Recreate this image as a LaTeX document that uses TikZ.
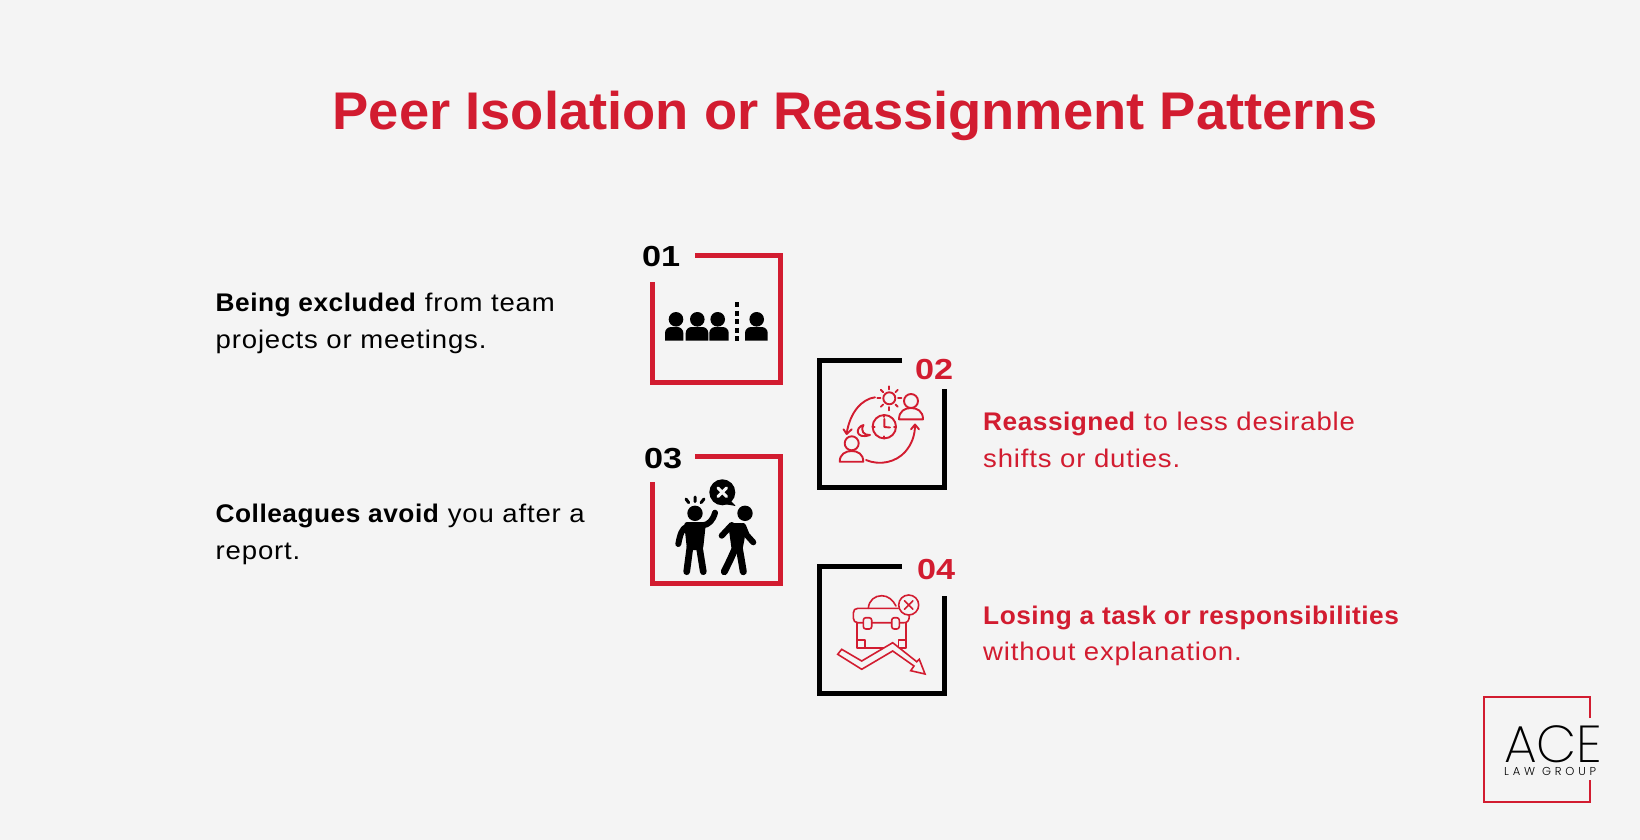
\documentclass[tikz,border=0pt]{standalone}
\usepackage{fontspec}
\setmainfont{Liberation Sans}[FakeStretch=1.08, LetterSpace=3.3, BoldFeatures={FakeStretch=1.03,LetterSpace=2}]
\newfontfamily\titlefont{Liberation Sans}[FakeStretch=1.025]
\newfontfamily\numfont{Liberation Sans}[FakeStretch=1.18]
\newfontfamily\logofont{Poppins ExtraLight}
\newfontfamily\logosmall{Poppins Light}[LetterSpace=33]
\definecolor{acered}{HTML}{D21C30}
\definecolor{pagebg}{HTML}{F4F4F4}
\tikzstyle{framered} = [draw=acered, line width=5pt]
\tikzstyle{frameblack} = [draw=black, line width=5pt]
\tikzstyle{thinicon} = [draw=acered, line width=1.9pt, line cap=round, line join=round]
\tikzstyle{numero} = [inner sep=0pt, anchor=base west, font=\numfont\fontsize{29}{29}\selectfont\bfseries]
\tikzstyle{bodytext} = [inner sep=0pt, anchor=base west, align=left, font=\fontsize{25.5}{36.5}\selectfont]
% one bust of the first icon: left, right
\newcommand{\bust}[2]{\fill (#1,340.7) [rounded corners=6pt] -- (#1,327) -- (#2,327) [sharp corners] -- (#2,340.7) -- cycle;}

\begin{document}
\begin{tikzpicture}[x=1pt,y=-1pt]
    \fill[pagebg] (0,0) rectangle (1640,840);
    \useasboundingbox (0,0) rectangle (1640,840);

    \node [inner sep=0pt, anchor=base, text=acered, font=\titlefont\fontsize{53}{53}\selectfont\bfseries] (title) at (855,130) {Peer Isolation or Reassignment Patterns};

    % frames
    \draw[framered] (695,255) -- (780,255) -- (780,382) -- (652,382) -- (652,282);
    \draw[frameblack] (902,360) -- (819,360) -- (819,487) -- (944,487) -- (944,389);
    \draw[framered] (695,456) -- (780,456) -- (780,583) -- (652,583) -- (652,482);
    \draw[frameblack] (902,566) -- (819,566) -- (819,693) -- (944,693) -- (944,596);

    \node [numero] (num01) at (642,266) {01};
    \node [numero, text=acered] (num02) at (915,379) {02};
    \node [numero] (num03) at (644,468) {03};
    \node [numero, text=acered] (num04) at (917,579) {04};

    \node [bodytext] (text01) at (215.5,348) {\textbf{Being excluded} from team\\projects or meetings.};
    \node [bodytext, text=acered] (text02) at (983,467) {\textbf{Reassigned} to less desirable\\shifts or duties.};
    \node [bodytext] (text03) at (215.5,559) {\textbf{Colleagues avoid} you after a\\report.};
    \node [bodytext, text=acered] (text04) at (983,660.5) {\textbf{Losing a task or responsibilities}\\without explanation.};

    % icon 01
    \foreach \x in {676,697.3,717.7,756.7} \fill (\x,319.3) circle (7.3);
    \bust{665}{683.3}
    \bust{685.7}{708.3}
    \bust{709.3}{728.7}
    \bust{745}{767.7}
    \draw[line width=4pt, dash pattern=on 5pt off 3.6pt] (737,302) -- (737,340.7);

    % icon 02
    \draw[thinicon] (889.3,398.3) circle (6);
    \foreach \a in {0,45,...,315} \draw[thinicon] (889.3,398.3) ++(\a:8.8) -- ++(\a:3.2);
    \draw[thinicon] (911,401) circle (7);
    \draw[thinicon] (899,419.3) .. controls (899,411) and (905,408) .. (911,408) .. controls (917,408) and (923,411) .. (923,419.3) -- cycle;
    \draw[thinicon] (851.7,443.3) circle (7);
    \draw[thinicon] (839.7,461.7) .. controls (839.7,454) and (845.7,451) .. (851.7,451) .. controls (857.7,451) and (863.3,454) .. (863.3,461.7) -- cycle;
    \draw[thinicon] (884.3,426.7) circle (11.7);
    \draw[thinicon] (884.3,419) -- (884.3,427) -- (890,427.5);
    \foreach \a in {0,90,180,270} \draw[thinicon] (884.3,426.7) ++(\a:11.7) -- ++(\a:-2);
    \draw[thinicon] (863.5,425) .. controls (855,427) and (855,440) .. (870,435) .. controls (864,435.5) and (860,431) .. cycle;
    \draw[thinicon] (875,397.3) .. controls (862,399) and (850,412) .. (846.7,433.3);
    \draw[thinicon] (843.5,429.3) -- (846.7,434) -- (851.7,429.3);
    \draw[thinicon] (866,460) .. controls (880,466) and (896,462) .. (905,452) .. controls (912,444) and (915,435) .. (915,425);
    \draw[thinicon] (911,429.3) -- (915,424.5) -- (919,429.3);

    % icon 03
    \fill (722.3,492.3) circle (13);
    \fill (730,500) -- (735.7,506) -- (724,504) -- cycle;
    \draw[pagebg, line width=3pt, line cap=round] (718,488) -- (726.6,496.6) (726.6,488) -- (718,496.6);
    \fill (695,513.3) circle (7.7);
    \draw[line width=3pt, line cap=round] (686,499) -- (688.7,502.7) (695,497) -- (695,501.7) (704,499) -- (701,502.7);
    \fill[rounded corners=3pt] (684,522) -- (706,522) -- (703,550) -- (687,550) -- cycle;
    \draw[line width=6pt, line cap=round, line join=round] (687,526.7) .. controls (682,528) and (680,535) .. (678.3,544);
    \draw[line width=6pt, line cap=round, line join=round] (702,525.5) .. controls (709,525) and (713,520) .. (715,512.7);
    \draw[line width=6.7pt, line cap=round] (690,546.7) -- (686.7,571.7) (699.3,546.7) -- (703.3,571.7);
    \fill (745,513.3) circle (7.7);
    \fill[rounded corners=3pt] (728,523) -- (744,523) -- (745,537) -- (741.7,553) -- (731.7,550) -- cycle;
    \draw[line width=6pt, line cap=round, line join=round] (731.7,525) -- (721.7,535.7);
    \draw[line width=6pt, line cap=round, line join=round] (743,526) -- (746.7,535) -- (753.3,542.3);
    \draw[line width=7pt, line cap=round, line join=round] (736,546.7) -- (730,560) -- (724.3,571.7);
    \draw[line width=7pt, line cap=round, line join=round] (739,546.7) -- (741,558) -- (743.3,571.7);

    % icon 04
    \tikzset{thinicon/.append style={line width=1.6pt}}
    \draw[thinicon] (868.3,608.3) .. controls (869,600) and (875,595.7) .. (881.7,595.7) .. controls (888,595.7) and (893,600) .. (896,606);
    \draw[thinicon] (908.7,605) circle (10);
    \draw[thinicon] (904.5,600.8) -- (912.9,609.2) (912.9,600.8) -- (904.5,609.2);
    \draw[thinicon] (898.3,608.3) -- (858,608.3) .. controls (855,608.3) and (853.3,610) .. (853.3,613) -- (853.3,618) .. controls (853.3,621) and (855,622.7) .. (858,622.7) -- (904,622.7) .. controls (907.5,622.7) and (909.3,620.5) .. (909.3,615.7);
    \draw[thinicon] (856.7,622.7) -- (856.7,647.7) -- (906,647.7) -- (906,622.7);
    \draw[thinicon, fill=pagebg, rounded corners=2.5pt] (863.3,617.7) rectangle (871.7,629);
    \draw[thinicon, fill=pagebg, rounded corners=2.5pt] (891.7,617.7) rectangle (899.3,629);
    \draw[thinicon] (857,640) -- (865,640) -- (865,647.7);
    \draw[thinicon] (906,640) -- (898.3,640) -- (898.3,647.7);
    \draw[thinicon, fill=pagebg, line join=miter] (837.7,654.3) -- (841.7,649.3) -- (861.7,661) -- (892.7,642.7) -- (916.7,661.7) -- (919.3,659.3) -- (925,674) -- (910.7,670.7) -- (914,666) -- (892.7,651) -- (861.7,669.3) -- cycle;

    % logo
    \draw[draw=acered, line width=2.4pt] (1590,718) -- (1590,697) -- (1484,697) -- (1484,802) -- (1590,802) -- (1590,780);
    \node [inner sep=0pt, anchor=base west, text depth=0pt, font=\logofont\fontsize{52}{52}\selectfont] (logoace) at (1504,762) {ACE};
    \node [inner sep=0pt, anchor=base west, text height=8pt, font=\logosmall\fontsize{11.5}{12}\selectfont] (logogroup) at (1504,775) {LAW GROUP};
\end{tikzpicture}
\end{document}
